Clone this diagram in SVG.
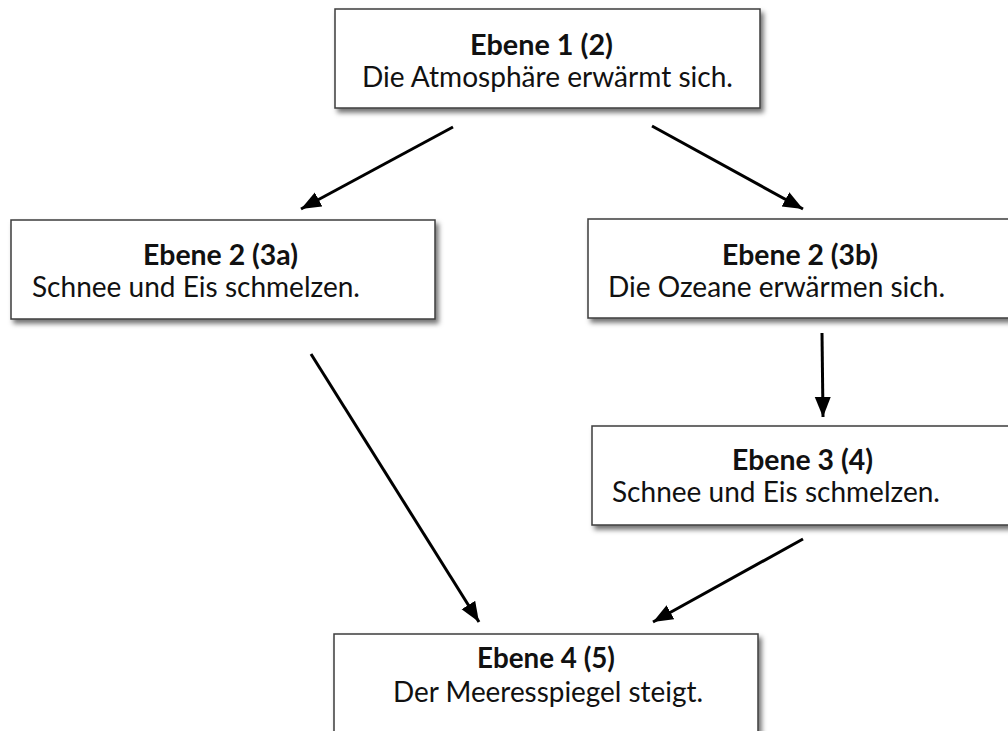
<svg xmlns="http://www.w3.org/2000/svg" width="1008" height="731" viewBox="0 0 1008 731">
<style>
.box{fill:#fff;stroke:#3c3c3c;stroke-width:1.5;filter:url(#sh)}
.t{font-family:Lato,"Open Sans","Liberation Sans",sans-serif;font-size:28px;fill:#111}
.b{font-weight:bold}
.c{stroke:#000;stroke-width:3;fill:none;marker-end:url(#ah)}
</style>
<defs>
<filter id="sh" x="-10%" y="-20%" width="125%" height="150%">
<feDropShadow dx="3" dy="4" stdDeviation="2.5" flood-color="#000" flood-opacity="0.55"/>
</filter>
<marker id="ah" markerUnits="userSpaceOnUse" markerWidth="22" markerHeight="18" refX="20" refY="8" orient="auto">
<path d="M0,0 L20,8 L0,16 z" fill="#000"/>
</marker>
</defs>
<g id="connectors">
<line class="c" x1="453" y1="127" x2="301" y2="209"/>
<line class="c" x1="652" y1="126" x2="803" y2="209"/>
<line class="c" x1="311" y1="354" x2="479" y2="622"/>
<line class="c" x1="822" y1="333" x2="823" y2="417"/>
<line class="c" x1="803" y1="539" x2="653" y2="622"/>
</g>
<g id="n1">
<rect class="box" x="335" y="9" width="425" height="99"/>
<text class="t b" x="470" y="55" textLength="143" lengthAdjust="spacingAndGlyphs">Ebene 1 (2)</text>
<text class="t" x="362" y="87" textLength="371" lengthAdjust="spacingAndGlyphs">Die Atmosphäre erwärmt sich.</text>
</g>
<g id="n2a">
<rect class="box" x="11" y="220" width="424" height="99"/>
<text class="t b" x="143" y="265" textLength="155" lengthAdjust="spacingAndGlyphs">Ebene 2 (3a)</text>
<text class="t" x="32" y="297" textLength="328" lengthAdjust="spacingAndGlyphs">Schnee und Eis schmelzen.</text>
</g>
<g id="n2b">
<rect class="box" x="588" y="219" width="424" height="99"/>
<text class="t b" x="722" y="265" textLength="156" lengthAdjust="spacingAndGlyphs">Ebene 2 (3b)</text>
<text class="t" x="608" y="297" textLength="337" lengthAdjust="spacingAndGlyphs">Die Ozeane erwärmen sich.</text>
</g>
<g id="n3">
<rect class="box" x="592" y="426" width="424" height="99"/>
<text class="t b" x="732" y="470" textLength="141" lengthAdjust="spacingAndGlyphs">Ebene 3 (4)</text>
<text class="t" x="612" y="502" textLength="328" lengthAdjust="spacingAndGlyphs">Schnee und Eis schmelzen.</text>
</g>
<g id="n4">
<rect class="box" x="334" y="634" width="424" height="120"/>
<text class="t b" x="477" y="668" textLength="138" lengthAdjust="spacingAndGlyphs">Ebene 4 (5)</text>
<text class="t" x="393" y="702" textLength="310" lengthAdjust="spacingAndGlyphs">Der Meeresspiegel steigt.</text>
</g>
</svg>
